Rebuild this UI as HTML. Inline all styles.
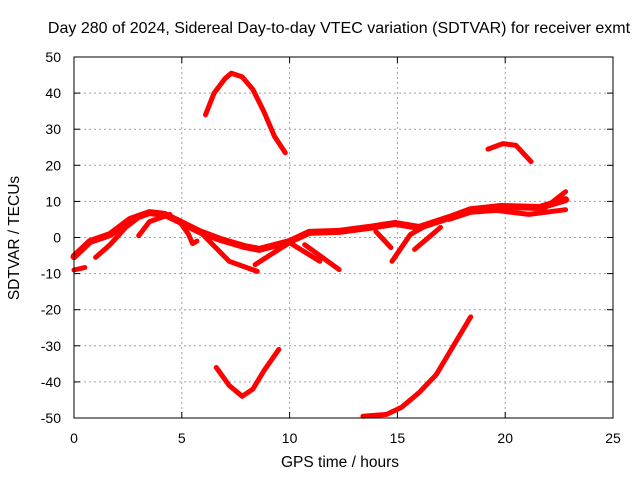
<!DOCTYPE html>
<html><head><meta charset="utf-8"><style>
body{margin:0;background:#fff}
svg{display:block;font-family:"Liberation Sans",sans-serif}
</style></head><body>
<svg id="c" width="640" height="480">
<text x="339" y="33" text-anchor="middle" font-size="16">Day 280 of 2024, Sidereal Day-to-day VTEC variation (SDTVAR) for receiver exmt</text>
<text x="340" y="467" text-anchor="middle" font-size="15.5">GPS time / hours</text>
<text transform="translate(19,238) rotate(-90)" text-anchor="middle" font-size="15.5">SDTVAR / TECUs</text>
<g id="grid"></g><g id="marks"></g>
<rect x="74" y="57" width="539" height="361" fill="none" stroke="#000" stroke-width="1"/>
</svg>
<script>
const xTicks=[0,5,10,15,20,25];
const yTicks=[-50,-40,-30,-20,-10,0,10,20,30,40,50];
const seriesHours=[
[6.1,6.5,7,7.3,7.8,8.3,8.8,9.3,9.8],
[6.6,7.2,7.8,8.3,8.8,9.5],
[13.4,14.5,15.2,16,16.8,17.5,18.4],
[19.2,19.9,20.5,21.2],
[0,0.74,1.67,2.6,3.5,4.2,4.9,5.8,6.77,7.9,8.6,10,10.9,12.3,13.7,14.9,16,17.4,18.4,19.8,21.6,22.8],
[0,0.5],
[1,1.67,2.4,3.1],
[3,3.5,4.45],
[4.9,5.3,5.5,5.7],
[5.75,7.2,8.5],
[8.4,10],
[10,11.4],
[10.7,12.3],
[14,14.7],
[14.75,15.6,16.5],
[15.8,17],
[17.4,18.4,19.6,21.1,22.8],
[21.8,22.8]
];
const seriesValues=[
[34,40,44,45.5,44.5,41,35,28,23.5],
[-36,-41,-44,-42,-37,-31],
[-49.5,-49,-47,-43,-38,-31,-22],
[24.5,26,25.5,21],
[-5.3,-1.1,0.8,5,6.9,6.4,4.4,1.7,-0.5,-2.5,-3.3,-1.1,1.4,1.7,2.8,3.9,2.8,5.5,7.7,8.6,8.3,10.5],
[-9,-8.3],
[-5.5,-2,2.8,6],
[0.5,4.4,6.4],
[4.4,1,-1.7,-1],
[2.2,-6.6,-9.4],
[-7.5,-1.4],
[-1.4,-6.6],
[-2,-8.9],
[1.7,-2.8],
[-6.6,0.8,3.9],
[-3.3,2.8],
[5,7,7.5,6.4,7.7],
[8,12.7]
];
const NS="http://www.w3.org/2000/svg";
const X=h=>74+h*539/25, Y=v=>237.5-v*3.61;
const grid=document.getElementById('grid'), marks=document.getElementById('marks');
function mk(t,a,p){const e=document.createElementNS(NS,t);for(const k in a)e.setAttribute(k,a[k]);p.appendChild(e);return e;}
xTicks.forEach(t=>{
 if(t>0&&t<25){const l=mk('line',{x1:X(t),x2:X(t),y1:57,y2:418,stroke:'#a0a0a0','stroke-dasharray':'2,3'},grid);
 
 }
 mk('line',{x1:X(t),x2:X(t),y1:418,y2:412,stroke:'#000'},grid);
 mk('line',{x1:X(t),x2:X(t),y1:57,y2:63,stroke:'#000'},grid);
 const tx=mk('text',{x:X(t),y:443,'text-anchor':'middle','font-size':14},grid);tx.textContent=t;
 
 
});
yTicks.forEach(t=>{
 if(t>-50&&t<50){const l=mk('line',{x1:74,x2:613,y1:Y(t),y2:Y(t),stroke:'#a0a0a0','stroke-dasharray':'2,3'},grid);
 
 }
 mk('line',{x1:74,x2:80,y1:Y(t),y2:Y(t),stroke:'#000'},grid);
 mk('line',{x1:607,x2:613,y1:Y(t),y2:Y(t),stroke:'#000'},grid);
 const tx=mk('text',{x:61,y:Y(t)+5,'text-anchor':'end','font-size':14},grid);tx.textContent=t;
 
 
});
seriesHours.forEach((hs,i)=>{
 const pts=hs.map((h,j)=>X(h).toFixed(1)+','+Y(seriesValues[i][j]).toFixed(1)).join(' ');
 const p=mk('polyline',{points:pts,fill:'none',stroke:'#f00','stroke-width':i==4?7:5,'stroke-linejoin':'round','stroke-linecap':'round'},marks);
 
 
});
</script>
</body></html>
